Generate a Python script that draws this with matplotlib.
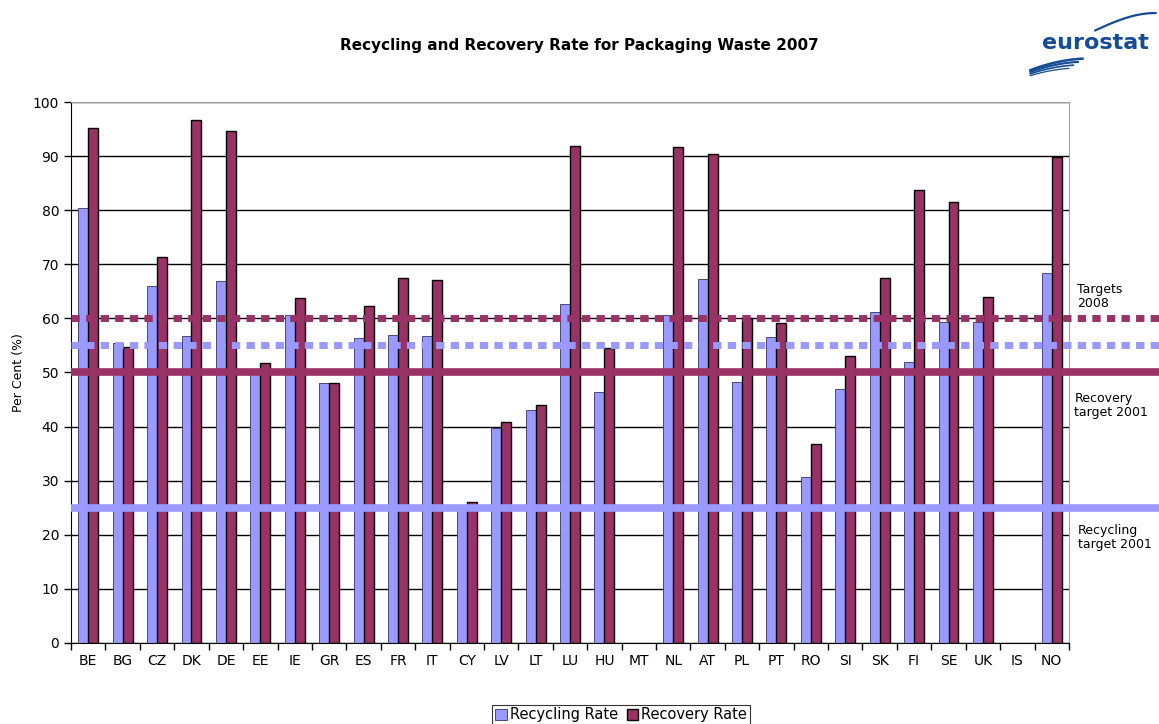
import numpy as np
import matplotlib
matplotlib.use('Agg')
import matplotlib.pyplot as plt

countries = ["BE", "BG", "CZ", "DK", "DE", "EE", "IE", "GR", "ES", "FR", "IT", "CY", "LV", "LT",
             "LU", "HU", "MT", "NL", "AT", "PL", "PT", "RO", "SI", "SK", "FI", "SE", "UK", "IS", "NO"]
# MT and IS have no data
recycling = [80.4, 55.4, 66.0, 56.7, 66.9, 50.0, 60.6, 48.1, 56.3, 56.9, 56.7, 25.0, 39.7, 43.0,
             62.6, 46.4, np.nan, 60.7, 67.3, 48.3, 56.5, 30.7, 47.0, 61.2, 51.9, 59.3, 59.3, np.nan, 68.3]
recovery = [95.2, 54.8, 71.3, 96.6, 94.7, 51.7, 63.7, 48.1, 62.2, 67.5, 67.1, 26.0, 40.9, 44.0,
            91.9, 54.6, np.nan, 91.7, 90.3, 60.1, 59.1, 36.7, 53.0, 67.5, 83.8, 81.6, 64.0, np.nan, 89.9]

recovery_2008 = 60
recycling_2008 = 55
recovery_2001 = 50
recycling_2001 = 25

BLUE = '#9999ff'
MAROON = '#993366'
LOGO = '#154c94'

fig = plt.figure(figsize=(11.59, 7.24), dpi=100)
ax = fig.add_axes([0.0613, 0.1119, 0.861, 0.7472])

x = np.arange(len(countries))
w = 0.29
ax.bar(x - w / 2, recycling, w, color=BLUE, edgecolor='#333366', linewidth=0.6,
       label='Recycling Rate', zorder=2)
ax.bar(x + w / 2, recovery, w, color=MAROON, edgecolor='black', linewidth=1.0,
       label='Recovery Rate', zorder=2)

# target lines, running past the plot area to the figure edge
tr = ax.get_yaxis_transform()
xe = 1.1
ax.plot([0, xe], [recovery_2008] * 2, color=MAROON, lw=5, ls=(0, (1.2, 0.9)),
        transform=tr, clip_on=False, zorder=3)
ax.plot([0, xe], [recycling_2008] * 2, color=BLUE, lw=5, ls=(0, (1.2, 0.9)),
        transform=tr, clip_on=False, zorder=3)
ax.plot([0, xe], [recovery_2001] * 2, color=MAROON, lw=5.5, transform=tr,
        clip_on=False, zorder=3, solid_capstyle='butt')
ax.plot([0, xe], [recycling_2001] * 2, color=BLUE, lw=5.5, transform=tr,
        clip_on=False, zorder=3, solid_capstyle='butt')

ax.set_xlim(-0.5, len(countries) - 0.5)
ax.set_ylim(0, 100)
ax.set_yticks(range(0, 101, 10))
ax.yaxis.grid(True, color='black', lw=1.0, zorder=0)
ax.set_axisbelow(True)

ax.set_xticks(x)
ax.set_xticklabels(countries, fontsize=10)
ax.set_xticks(np.arange(-0.5, len(countries), 1), minor=True)
ax.tick_params(axis='x', which='major', length=0, pad=8)
ax.tick_params(axis='x', which='minor', length=5, width=1, direction='out')
ax.tick_params(axis='y', length=5, width=1, labelsize=10, direction='out')

for s in ['top', 'right']:
    ax.spines[s].set_color('#a0a0a0')
for s in ['left', 'bottom']:
    ax.spines[s].set_color('black')

ax.set_ylabel('Per Cent (%)', fontsize=9, labelpad=6)

fig.text(0.5, 0.937, 'Recycling and Recovery Rate for Packaging Waste 2007',
         ha='center', va='center', fontsize=11, fontweight='bold')

fig.text(0.929, 0.59, 'Targets\n2008', fontsize=9, va='center', ha='left', linespacing=1.1)
fig.text(0.927, 0.44, 'Recovery\ntarget 2001', fontsize=9, va='center', ha='left', linespacing=1.1)
fig.text(0.930, 0.258, 'Recycling\ntarget 2001', fontsize=9, va='center', ha='left', linespacing=1.1)

# eurostat logo
fig.text(0.899, 0.94, 'eurostat', fontsize=16, fontweight='bold', color=LOGO,
         ha='left', va='center')
t = np.linspace(0, 1, 50)
for k in range(4):
    xs = 0.889 + (0.045 - 0.004 * k) * t
    ys = 0.915 - 0.0045 * k - (0.012 - 0.002 * k) * (1 - t) ** 2 + 0.004 * t
    fig.add_artist(plt.Line2D(xs, ys, color=LOGO, lw=1.8 - 0.3 * k))
xs = 0.945 + 0.052 * t
ys = 0.958 + 0.024 * np.sin(0.5 * np.pi * t)
fig.add_artist(plt.Line2D(xs, ys, color=LOGO, lw=1.6))

leg = fig.legend(loc='lower center', bbox_to_anchor=(0.536, -0.012), ncol=2, fontsize=10.5,
                 frameon=True, fancybox=False, edgecolor='black', handlelength=0.8,
                 handleheight=0.8, handletextpad=0.2, columnspacing=0.6, borderpad=0.2)
leg.get_frame().set_linewidth(0.8)

fig.savefig('out.png', dpi=100)
